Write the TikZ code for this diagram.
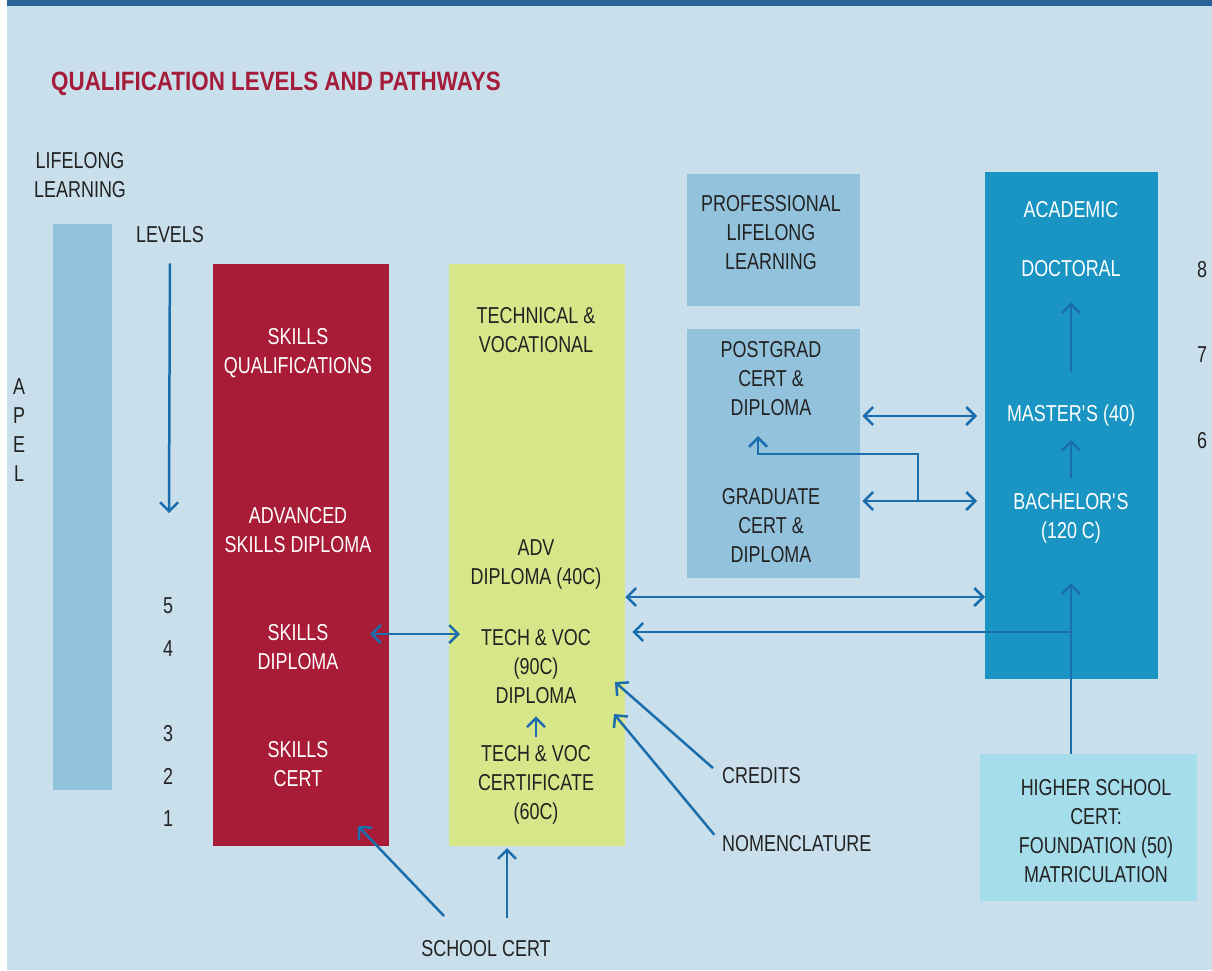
\documentclass[tikz,border=0pt]{standalone}
\usepackage{fontspec}
\setmainfont{Liberation Sans}[FakeStretch=0.78]
\newfontfamily\titlefont{Liberation Sans}[FakeStretch=0.845]
\usetikzlibrary{arrows.meta,positioning}
\definecolor{bgblue}{HTML}{C9DFEB}
\definecolor{barblue}{HTML}{2A6496}
\definecolor{apelblue}{HTML}{93C2DC}
\definecolor{skillred}{HTML}{A91C37}
\definecolor{techyellow}{HTML}{D8E68A}
\definecolor{acadblue}{HTML}{1A95C3}
\definecolor{hscblue}{HTML}{A6DDEB}
\definecolor{arrblue}{HTML}{1B6EAD}
\definecolor{titlered}{HTML}{A51C3B}
\definecolor{txtdark}{HTML}{222222}

\tikzset{
  panel/.style={draw=none,inner sep=0pt,anchor=north west},
  lbl/.style={font=\fontsize{23}{29}\selectfont,align=center,inner sep=0pt,text=txtdark},
  wlbl/.style={lbl,text=white},
  link/.style={draw=arrblue,line width=2.5pt,-{Straight Barb[length=9pt,width=18pt]}},
  dlink/.style={link,{Straight Barb[length=9pt,width=18pt]}-{Straight Barb[length=9pt,width=18pt]}}
}

\begin{document}
\begin{tikzpicture}[x=1pt,y=-1pt]
\useasboundingbox (0,0) rectangle (1212,970);
\fill[white] (0,0) rectangle (1212,970);
\fill[bgblue] (7,0) rectangle (1212,970);
\fill[barblue] (7,0) rectangle (1212,6);

\node[anchor=base west,inner sep=0pt,text=titlered,font=\titlefont\fontsize{26.5}{30}\selectfont\bfseries] (title) at (51,90) {QUALIFICATION LEVELS AND PATHWAYS};

% panels
\node[panel,fill=apelblue,minimum width=59pt,minimum height=566pt] (apel) at (53,224) {};
\node[panel,fill=skillred,minimum width=176pt,minimum height=582pt] (skills) at (213,264) {};
\node[panel,fill=techyellow,minimum width=176pt,minimum height=582pt] (tech) at (449,264) {};
\node[panel,fill=apelblue,minimum width=173pt,minimum height=132pt] (profbox) at (687,174) {};
\node[panel,fill=apelblue,minimum width=173pt,minimum height=249pt] (pgbox) at (687,329) {};
\node[panel,fill=acadblue,minimum width=173pt,minimum height=507pt] (acad) at (985,172) {};
\node[panel,fill=hscblue,minimum width=217pt,minimum height=147pt] (hscbox) at (980,754) {};

% left side labels
\node[lbl,anchor=north west] (lifelong) at (34,152) {LIFELONG\\LEARNING};
\node[lbl] (apeltxt) at (19,430) {A\\P\\E\\L};
\node[lbl] (levels) at (170,235) {LEVELS};
\node[lbl] (n5) at (168,606) {5};
\node[lbl] (n4) at (168,649) {4};
\node[lbl] (n3) at (168,734) {3};
\node[lbl] (n2) at (168,776) {2};
\node[lbl] (n1) at (168,819) {1};
\node[lbl] (n8) at (1202,270) {8};
\node[lbl] (n7) at (1202,355) {7};
\node[lbl] (n6) at (1202,441) {6};

% skills column
\node[wlbl] (skillqual) at (298,353) {SKILLS\\QUALIFICATIONS};
\node[wlbl] (advskill) at (298,530) {ADVANCED\\SKILLS DIPLOMA};
\node[wlbl] (skilldip) at (298,647) {SKILLS\\DIPLOMA};
\node[wlbl] (skillcert) at (298,764) {SKILLS\\CERT};

% technical column
\node[lbl] (techvoc) at (536,330) {TECHNICAL \&\\VOCATIONAL};
\node[lbl] (advdip) at (536,564) {ADV\\DIPLOMA (40C)};
\node[lbl] (tvdip) at (536,667) {TECH \& VOC\\(90C)\\DIPLOMA};
\node[lbl] (tvcert) at (536,785) {TECH \& VOC\\CERTIFICATE\\(60C)};

% professional
\node[lbl] (proflife) at (771,233) {PROFESSIONAL\\LIFELONG\\LEARNING};
\node[lbl] (postgrad) at (771,379) {POSTGRAD\\CERT \&\\DIPLOMA};
\node[lbl] (graduate) at (771,526) {GRADUATE\\CERT \&\\DIPLOMA};

% academic
\node[wlbl] (academic) at (1071,210) {ACADEMIC};
\node[wlbl] (doctoral) at (1071,269) {DOCTORAL};
\node[wlbl] (masters) at (1071,416) {MASTER\textquotesingle S (40)};
\node[wlbl] (bach) at (1071,518) {BACHELOR\textquotesingle S\\(120 C)};
\node[lbl] (hsc) at (1096,831) {HIGHER SCHOOL\\CERT:\\FOUNDATION (50)\\MATRICULATION};

% bottom labels
\node[lbl,anchor=west] (credits) at (722,776) {CREDITS};
\node[lbl,anchor=west] (nomen) at (722,844) {NOMENCLATURE};
\node[lbl] (school) at (486,949) {SCHOOL CERT};

% end points
\coordinate (lvlend) at (169,513);
\coordinate (sdR) at (370,634);
\coordinate (tvL) at (460,634);
\coordinate (r597) at (0,597);
\coordinate (r632) at (0,632);
\coordinate (gj) at (918,501);
\coordinate (bend) at (918,454);
\coordinate (pgtip) at (758,436);
\coordinate (credtip) at (615,682);
\coordinate (nomtip) at (614,714);
\coordinate (schtail) at (444,916);
\coordinate (schtip) at (358,826);
\coordinate (sch2tail) at (507,918);
\coordinate (sch2tip) at (507,848);

% connectors
\draw[link,shorten <=20pt] (levels) -- (lvlend);
\draw[dlink] (sdR) -- (tvL);
\draw[link,shorten <=8pt,shorten >=12pt] (tvcert.north) -- (tvdip.south);
\draw[dlink] (tech.east |- r597) -- (acad.west |- r597);
\draw[link,shorten >=40pt] (bach.south |- hscbox.north) -- (bach.south);
\draw[link,shorten >=7pt] (bach.south |- r632) -- (tech.east |- r632);
\draw[link,shorten <=33pt,shorten >=25pt] (masters.north) -- (doctoral.south);
\draw[link,shorten <=15pt,shorten >=13pt] (bach.north) -- (masters.south);
\draw[dlink,shorten <=2pt,shorten >=8pt] (pgbox.east |- masters) -- (acad.west |- masters);
\draw[dlink,shorten <=2pt,shorten >=8pt] (pgbox.east |- gj) -- (acad.west |- gj);
\draw[link] (gj) -- (bend) -| (pgtip);
\draw[link,shorten <=12pt] (credits.west) -- (credtip);
\draw[link,shorten <=12pt] (nomen.west) -- (nomtip);
\draw[link] (schtail) -- (schtip);
\draw[link] (sch2tail) -- (sch2tip);
\end{tikzpicture}
\end{document}
